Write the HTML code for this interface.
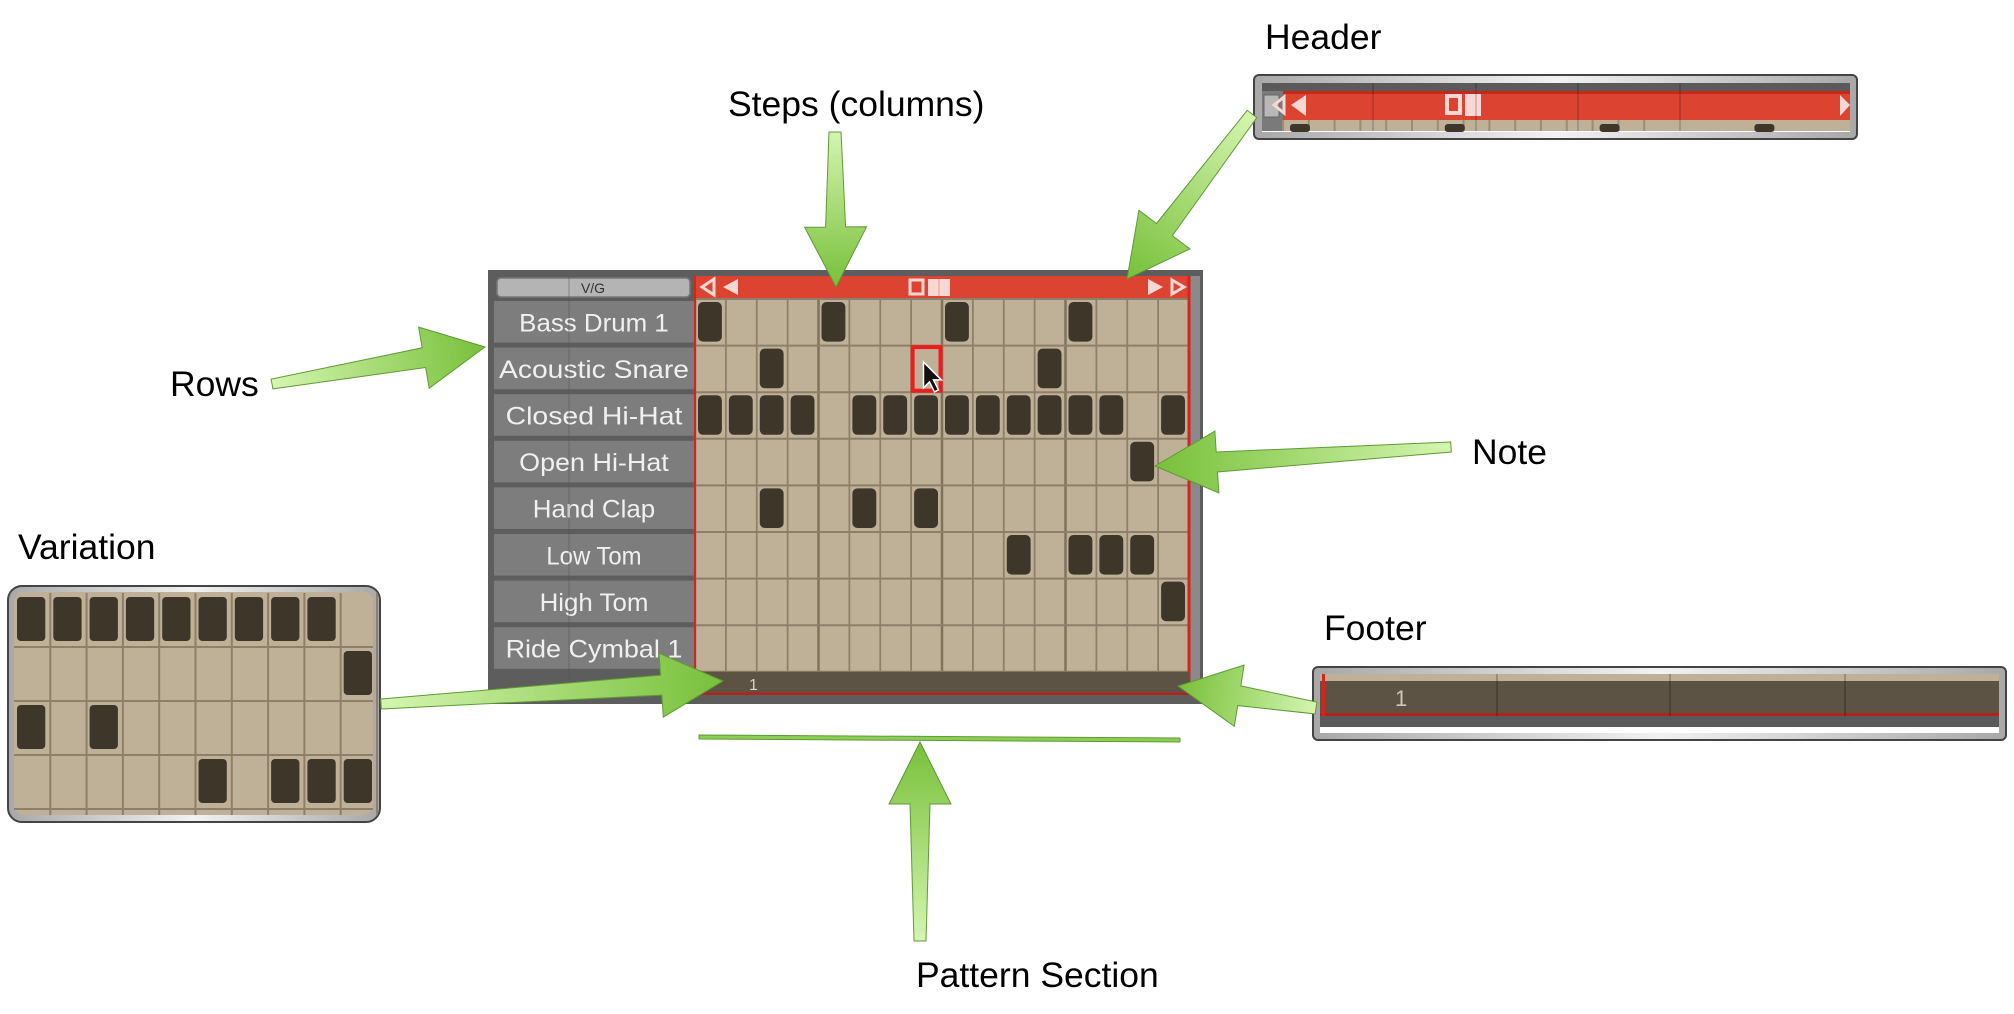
<!DOCTYPE html>
<html><head><meta charset="utf-8"><style>
html,body{margin:0;padding:0;background:#fff;}
svg{display:block;font-family:"Liberation Sans",Arial,sans-serif;}
</style></head><body>
<svg id="s" width="2014" height="1014" viewBox="0 0 2014 1014" xmlns="http://www.w3.org/2000/svg">
<defs>
<linearGradient id="frame" x1="0" x2="1" y1="0" y2="0"><stop offset="0" stop-color="#a8a8a8"/><stop offset="0.5" stop-color="#f2f2f2"/><stop offset="1" stop-color="#a8a8a8"/></linearGradient>
</defs>
<g id="main"></g>
<g id="insets"></g>
<g id="arrows"></g>
<g id="captions"></g>
</svg>
<script>
const rowLabels = ["Bass Drum 1","Acoustic Snare","Closed Hi-Hat","Open Hi-Hat","Hand Clap","Low Tom","High Tom","Ride Cymbal 1"];
const bassSteps = [0,4,8,12];
const snareSteps = [2,11];
const closedHatSteps = [0,1,2,3,5,6,7,8,9,10,11,12,13,15];
const openHatSteps = [14];
const clapSteps = [2,5,7];
const lowTomSteps = [10,12,13,14];
const highTomSteps = [15];
const rideSteps = [];
const stepCount = 16;
const selectedRow = 1;
const selectedStep = 7;
const varRow0 = [0,1,2,3,4,5,6,7,8];
const varRow1 = [9];
const varRow2 = [0,2];
const varRow3 = [5,7,8,9];

const NS = "http://www.w3.org/2000/svg";
function mk(parent, tag, attrs, text){
  const e = document.createElementNS(NS, tag);
  for (const k in attrs) e.setAttribute(k, attrs[k]);
  if (text !== undefined) e.textContent = text;
  parent.appendChild(e);
  return e;
}
const main = document.getElementById('main');
const ins = document.getElementById('insets');
const arr = document.getElementById('arrows');
const cap = document.getElementById('captions');

const gx0 = 695, gx1 = 1189, gy0 = 299, rowH = 46.6;
const colW = (gx1 - gx0) / stepCount;
const xs = i => gx0 + i * colW;
const ys = r => gy0 + r * rowH;

let e = mk(main,'rect',{x:488,y:270,width:715,height:434,fill:'#5d5d5d'});
 
mk(main,'rect',{x:1189,y:276,width:11,height:418,fill:'#8a8a8a'});
e = mk(main,'rect',{x:497,y:278,width:193,height:19,rx:4,fill:'#b4b4b4',stroke:'#777','stroke-width':1.5});
 
mk(main,'text',{x:593,y:293,'text-anchor':'middle','font-size':14,fill:'#333'},'V/G');

const allSteps = [bassSteps,snareSteps,closedHatSteps,openHatSteps,clapSteps,lowTomSteps,highTomSteps,rideSteps];
rowLabels.forEach((lab, r) => {
  const g = mk(main,'g',{});
  
  
  mk(g,'rect',{x:494,y:ys(r)+2,width:200,height:rowH-5,fill:'#7d7d7d'});
  mk(g,'text',{x:594,y:ys(r)+rowH/2+9,'text-anchor':'middle','font-size':25,fill:'#f0f0f0',textLength:Math.min(190, lab.length*13.6),lengthAdjust:'spacingAndGlyphs'},lab);
});
mk(main,'line',{x1:569,y1:276,x2:569,y2:694,stroke:'#555','stroke-width':1,opacity:0.5});

e = mk(main,'rect',{x:gx0,y:276,width:gx1-gx0,height:23,fill:'#dc4431'});
 
const hc = '#f8d8d4';
mk(main,'polygon',{points:'702,287 714,279 714,295',fill:'none',stroke:hc,'stroke-width':3});
mk(main,'polygon',{points:'723,287 738,279 738,295',fill:hc});
mk(main,'rect',{x:910,y:280,width:13,height:14,fill:'none',stroke:hc,'stroke-width':3});
mk(main,'rect',{x:928,y:279,width:22,height:17,fill:hc});
mk(main,'line',{x1:939,y1:279,x2:939,y2:296,stroke:'#e9b0a8','stroke-width':1.5});
mk(main,'polygon',{points:'1148,279 1163,287 1148,295',fill:hc});
mk(main,'polygon',{points:'1172,280 1184,287 1172,294',fill:'none',stroke:hc,'stroke-width':3});

mk(main,'rect',{x:gx0,y:gy0,width:gx1-gx0,height:8*rowH,fill:'#bfb197'});
for (let i=0;i<=stepCount;i++){
  mk(main,'line',{x1:xs(i),y1:gy0,x2:xs(i),y2:gy0+8*rowH,stroke:i%4===0?'#7f735d':'#8d806a','stroke-width':i%4===0?2.5:1.8});
}
for (let r=0;r<=8;r++){
  mk(main,'line',{x1:gx0,y1:ys(r),x2:gx1,y2:ys(r),stroke:'#8d806a','stroke-width':2});
}
allSteps.forEach((steps, r) => {
  steps.forEach(s => {
    const n = mk(main,'rect',{x:xs(s)+3,y:ys(r)+3,width:colW-7,height:rowH-7,rx:5,fill:'#3d3629'});
    
    
  });
});
e = mk(main,'rect',{x:xs(selectedStep)+1.5,y:ys(selectedRow)+1.5,width:colW-3,height:rowH-3,fill:'none',stroke:'#ee1c1c','stroke-width':4});
 
const cx = xs(selectedStep)+colW*0.4, cy = ys(selectedRow)+rowH*0.35;
e = mk(main,'polygon',{points:`${cx},${cy} ${cx},${cy+26} ${cx+6},${cy+20} ${cx+11},${cy+30} ${cx+15},${cy+28} ${cx+10},${cy+18} ${cx+18},${cy+18}`,fill:'#111',stroke:'#fff','stroke-width':1.5});
 
mk(main,'line',{x1:gx0,y1:276,x2:gx0,y2:694,stroke:'#d8231c','stroke-width':2});
mk(main,'line',{x1:gx1,y1:276,x2:gx1,y2:694,stroke:'#d8231c','stroke-width':3});
e = mk(main,'rect',{x:gx0,y:ys(8),width:gx1-gx0,height:22,fill:'#5c5345'});
 
mk(main,'line',{x1:gx0,y1:ys(8)+22,x2:gx1+3,y2:ys(8)+22,stroke:'#b0241c','stroke-width':2.5});
mk(main,'text',{x:749,y:ys(8)+18,'font-size':16,fill:'#d8d2c8'},'1');

e = mk(ins,'rect',{x:1254,y:75,width:603,height:64,rx:5,fill:'url(#frame)',stroke:'#444','stroke-width':2});
 
mk(ins,'rect',{x:1262,y:83,width:588,height:49,fill:'#fff'});
mk(ins,'rect',{x:1262,y:83,width:588,height:8,fill:'#5a5a5a'});
mk(ins,'rect',{x:1262,y:91,width:21,height:40,fill:'#7a7a7a'});
mk(ins,'rect',{x:1264,y:95,width:15,height:22,fill:'#b8b8b8',stroke:'#666'});
mk(ins,'rect',{x:1283,y:91,width:567,height:29,fill:'#dc4431'});
mk(ins,'rect',{x:1283,y:91,width:567,height:3,fill:'#c8281c'});
mk(ins,'rect',{x:1283,y:120,width:567,height:11,fill:'#bfb197'});
for (let i=0;i<15;i++){ mk(ins,'line',{x1:1283+i*25.8,y1:120,x2:1283+i*25.8,y2:131,stroke:'#9a8d76','stroke-width':2}); }
[0,4,8,12].forEach(i=>mk(ins,'rect',{x:1290+i*38.7,y:124,width:20,height:8,rx:3,fill:'#3d3629'}));
mk(ins,'polygon',{points:'1274,105 1284,97 1284,113',fill:'none',stroke:hc,'stroke-width':3});
mk(ins,'polygon',{points:'1291,105 1306,95 1306,116',fill:hc});
mk(ins,'rect',{x:1447,y:96,width:13,height:17,fill:'none',stroke:hc,'stroke-width':4});
mk(ins,'rect',{x:1465,y:94,width:16,height:22,fill:hc});
mk(ins,'polygon',{points:'1840,95 1850,105 1840,116',fill:hc});
[1373,1476,1578,1680].forEach(x=>mk(ins,'line',{x1:x,y1:83,x2:x,y2:131,stroke:'#000','stroke-opacity':0.15,'stroke-width':2}));

e = mk(ins,'rect',{x:1313,y:667,width:693,height:73,rx:5,fill:'url(#frame)',stroke:'#444','stroke-width':2});
 
mk(ins,'rect',{x:1320,y:674,width:679,height:59,fill:'#fff'});
mk(ins,'rect',{x:1320,y:674,width:679,height:7,fill:'#bfb197'});
mk(ins,'rect',{x:1320,y:681,width:679,height:32,fill:'#5c5345'});
mk(ins,'rect',{x:1320,y:713,width:679,height:3,fill:'#b0241c'});
mk(ins,'rect',{x:1320,y:716,width:679,height:11,fill:'#5a5a5a'});
mk(ins,'rect',{x:1322,y:674,width:3,height:42,fill:'#d8231c'});
[1497,1670,1845].forEach(x=>mk(ins,'line',{x1:x,y1:674,x2:x,y2:716,stroke:'#000','stroke-opacity':0.2,'stroke-width':2}));
mk(ins,'text',{x:1395,y:706,'font-size':22,fill:'#cfc8bc'},'1');

e = mk(ins,'rect',{x:8,y:586,width:372,height:236,rx:14,fill:'url(#frame)',stroke:'#444','stroke-width':2});
 
mk(ins,'rect',{x:14,y:592,width:359,height:223,rx:10,fill:'#bfb197'});
const vx0 = 14, vcol = 36.3, vy0 = 593, vrow = 54;
for (let i=1;i<=10;i++) mk(ins,'line',{x1:vx0+i*vcol,y1:593,x2:vx0+i*vcol,y2:815,stroke:'#8d806a','stroke-width':2});
for (let r=1;r<=4;r++) mk(ins,'line',{x1:14,y1:vy0+r*vrow,x2:373,y2:vy0+r*vrow,stroke:'#8d806a','stroke-width':2});
[varRow0,varRow1,varRow2,varRow3].forEach((steps,r)=>{
  steps.forEach(s=>{
    const n = mk(ins,'rect',{x:vx0+s*vcol+3,y:vy0+r*vrow+4,width:vcol-8,height:vrow-10,rx:4,fill:'#3d3629'});
    
    
  });
});

function arrow(name, x1,y1,x2,y2, hl, hw, w1, w2){
  const dx=x2-x1, dy=y2-y1, L=Math.hypot(dx,dy), ux=dx/L, uy=dy/L, nx=-uy, ny=ux;
  const bx=x2-ux*hl, by=y2-uy*hl;
  const id='g'+name;
  const gr = mk(document.querySelector('defs'),'linearGradient',{id:id,gradientUnits:'userSpaceOnUse',x1:x1,y1:y1,x2:x2,y2:y2});
  mk(gr,'stop',{offset:0,'stop-color':'#d4f5b0'});
  mk(gr,'stop',{offset:1,'stop-color':'#78c03a'});
  const p=[[x1+nx*w1/2,y1+ny*w1/2],[bx+nx*w2/2,by+ny*w2/2],[bx+nx*hw/2,by+ny*hw/2],[x2,y2],[bx-nx*hw/2,by-ny*hw/2],[bx-nx*w2/2,by-ny*w2/2],[x1-nx*w1/2,y1-ny*w1/2]];
  const a = mk(arr,'polygon',{points:p.map(q=>q.map(v=>v.toFixed(1)).join(',')).join(' '),fill:'url(#'+id+')',stroke:'#5f9a36','stroke-width':1});
  
  
}
arrow('steps-arrow',835,132,836,287,60,62,12,20);
arrow('header-arrow',1252,114,1127,279,62,64,12,20);
arrow('rows-arrow',272,384,485,347,62,62,10,20);
arrow('note-arrow',1451,447,1155,466,62,62,10,20);
arrow('variation-arrow',381,704,723,681,62,64,10,20);
arrow('footer-arrow',1316,708,1178,686,62,62,12,20);
arrow('pattern-arrow',920,941,920,742,62,62,12,20);
e = mk(arr,'polygon',{points:'699,735 1180,738 1180,742 699,739',fill:'#8cce55',stroke:'#5f9a36','stroke-width':1});
 

[['Header',1265,49,'header-caption'],['Steps (columns)',728,116,'steps-caption'],['Rows',170,396,'rows-caption'],['Note',1472,464,'note-caption'],['Variation',18,559,'variation-caption'],['Footer',1324,640,'footer-caption'],['Pattern Section',916,987,'pattern-section-caption']].forEach(c=>{
  const t = mk(cap,'text',{x:c[1],y:c[2],'font-size':35.5,fill:'#000'},c[0]);
  
  
});
</script>
</body></html>
